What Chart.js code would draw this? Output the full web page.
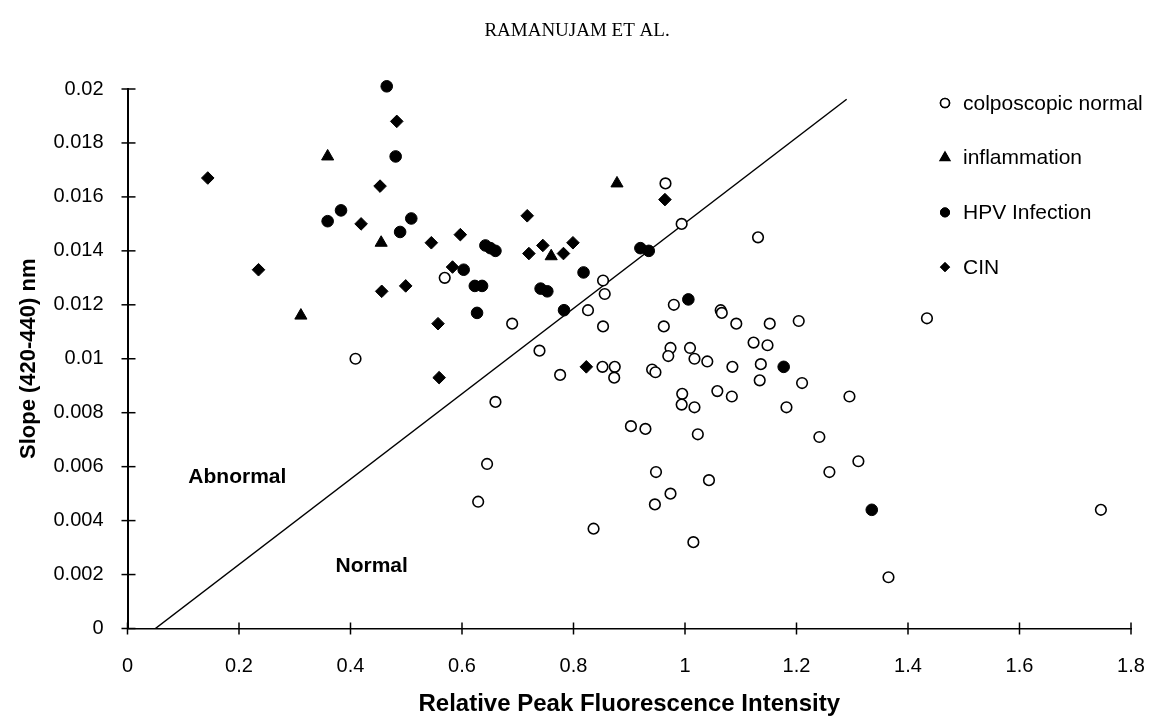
<!DOCTYPE html>
<html>
<head>
<meta charset="utf-8">
<script src="https://cdn.jsdelivr.net/npm/chart.js@4/dist/chart.umd.min.js"></script>
<style>
  body { margin: 0; background: #fff; }
</style>
</head>
<body>
<canvas id="fluorChart" width="1151" height="725"></canvas>
<script>
// values: [relative peak intensity, slope]
const colposcopicNormal = [
  [0.409, 0.0100], [0.569, 0.0130], [0.690, 0.0113], [0.660, 0.0084], [0.645, 0.0061],
  [0.629, 0.0047], [0.739, 0.0103], [0.776, 0.0094], [0.826, 0.0118], [0.853, 0.0129],
  [0.856, 0.0124], [0.853, 0.0112], [0.852, 0.0097], [0.874, 0.0097], [0.873, 0.0093],
  [0.836, 0.0037], [0.903, 0.0075], [0.929, 0.0074], [0.941, 0.0096], [0.947, 0.0095],
  [0.948, 0.0058], [0.946, 0.0046], [0.965, 0.0165], [0.994, 0.0150], [0.962, 0.0112],
  [0.980, 0.0120], [0.974, 0.0104], [0.970, 0.0101], [0.974, 0.0050], [0.995, 0.0087],
  [0.994, 0.0083], [1.009, 0.0104], [1.017, 0.0100], [1.017, 0.0082], [1.015, 0.0032],
  [1.023, 0.0072], [1.040, 0.0099], [1.043, 0.0055], [1.058, 0.0088], [1.064, 0.0118],
  [1.066, 0.0117], [1.085, 0.0097], [1.084, 0.0086], [1.092, 0.0113], [1.123, 0.0106],
  [1.131, 0.0145], [1.134, 0.0092], [1.136, 0.0098], [1.148, 0.0105], [1.152, 0.0113],
  [1.182, 0.0082], [1.204, 0.0114], [1.210, 0.0091], [1.241, 0.0071], [1.259, 0.0058],
  [1.295, 0.0086], [1.311, 0.0062], [1.365, 0.0019], [1.434, 0.0115], [1.746, 0.0044]
];
const inflammation = [
  [0.311, 0.0116], [0.359, 0.0175], [0.455, 0.0143], [0.760, 0.0138], [0.878, 0.0165]
];
const hpvInfection = [
  [0.359, 0.0151], [0.383, 0.0155], [0.465, 0.0201], [0.481, 0.0175], [0.489, 0.0147],
  [0.509, 0.0152], [0.603, 0.0133], [0.627, 0.0117], [0.623, 0.0127], [0.636, 0.0127],
  [0.642, 0.0142], [0.651, 0.0141], [0.660, 0.0140], [0.741, 0.0126], [0.753, 0.0125],
  [0.783, 0.0118], [0.818, 0.0132], [0.920, 0.0141], [0.935, 0.0140], [1.006, 0.0122],
  [1.177, 0.0097], [1.335, 0.0044]
];
const cin = [
  [0.144, 0.0167], [0.235, 0.0133], [0.419, 0.0150], [0.453, 0.0164], [0.456, 0.0125],
  [0.483, 0.0188], [0.499, 0.0127], [0.545, 0.0143], [0.557, 0.0113], [0.559, 0.0093],
  [0.583, 0.0134], [0.597, 0.0146], [0.717, 0.0153], [0.720, 0.0139], [0.745, 0.0142],
  [0.782, 0.0139], [0.799, 0.0143], [0.823, 0.0097], [0.964, 0.0159]
];
// decision line, its two ends
const boundaryLine = [[0.05, 0], [1.29, 0.01962]];

const seriesNames = ['colposcopic normal', 'inflammation', 'HPV Infection', 'CIN'];
const regionLabels = [
  { text: 'Abnormal', x: 0.197, y: 0.0056 },
  { text: 'Normal', x: 0.438, y: 0.0023 }
];

const toXY = arr => arr.map(p => ({ x: p[0], y: p[1] }));
const fmt = v => String(Number(v.toFixed(4)));
const FONT = '"Liberation Sans", Arial, sans-serif';

// ticks crossing the axes, header, region labels and the legend inside the plot
const paperPlugin = {
  id: 'paper',
  afterDraw(chart) {
    const ctx = chart.ctx;
    const xs = chart.scales.x, ys = chart.scales.y;
    ctx.save();
    ctx.strokeStyle = '#000';
    ctx.lineWidth = 1.5;
    xs.ticks.forEach(t => {
      const px = xs.getPixelForValue(t.value);
      ctx.beginPath(); ctx.moveTo(px, ys.bottom - 6); ctx.lineTo(px, ys.bottom + 6); ctx.stroke();
    });
    ys.ticks.forEach(t => {
      const py = ys.getPixelForValue(t.value);
      ctx.beginPath(); ctx.moveTo(xs.left - 6, py); ctx.lineTo(xs.left + 8, py); ctx.stroke();
    });

    ctx.fillStyle = '#000';
    ctx.textAlign = 'center';
    ctx.textBaseline = 'middle';
    ctx.font = '19px "Liberation Serif", serif';
    ctx.fillText('RAMANUJAM ET AL.', 577, 31);

    ctx.font = 'bold 21px ' + FONT;
    regionLabels.forEach(r => {
      ctx.fillText(r.text, xs.getPixelForValue(r.x), ys.getPixelForValue(r.y));
    });

    // legend
    ctx.textAlign = 'left';
    ctx.font = '21px ' + FONT;
    chart.data.datasets.filter(d => d.type !== 'line').forEach((d, i) => {
      const y = 103 + i * 54.7;
      Chart.helpers.drawPoint(ctx, {
        pointStyle: d.pointStyle,
        radius: d.pointStyle === 'triangle' ? 5.5 : 4.5,
        rotation: 0,
        borderWidth: d.borderWidth
      }, 945, y);
      ctx.fillStyle = d.backgroundColor;
      ctx.strokeStyle = '#000';
      ctx.lineWidth = d.borderWidth;
      ctx.fill();
      ctx.stroke();
      ctx.fillStyle = '#000';
      ctx.fillText(d.label, 963, y + 1);
    });
    ctx.restore();
  }
};

new Chart(document.getElementById('fluorChart'), {
  type: 'scatter',
  data: {
    datasets: [
      {
        label: seriesNames[0], data: toXY(colposcopicNormal),
        pointStyle: 'circle', pointRadius: 5.3, borderWidth: 1.6,
        backgroundColor: '#fff', borderColor: '#000', clip: false
      },
      {
        label: seriesNames[1], data: toXY(inflammation),
        pointStyle: 'triangle', pointRadius: 7, borderWidth: 1,
        backgroundColor: '#000', borderColor: '#000', clip: false
      },
      {
        label: seriesNames[2], data: toXY(hpvInfection),
        pointStyle: 'circle', pointRadius: 5.8, borderWidth: 1,
        backgroundColor: '#000', borderColor: '#000', clip: false
      },
      {
        label: seriesNames[3], data: toXY(cin),
        pointStyle: 'rectRot', pointRadius: 6.3, borderWidth: 1,
        backgroundColor: '#000', borderColor: '#000', clip: false
      },
      {
        type: 'line', label: 'boundary', data: toXY(boundaryLine),
        borderColor: '#000', borderWidth: 1.5, pointRadius: 0, fill: false
      }
    ]
  },
  options: {
    responsive: false,
    animation: false,
    layout: { padding: { top: 89, right: 20, left: 0, bottom: 0 } },
    plugins: {
      legend: { display: false },
      tooltip: { enabled: false }
    },
    scales: {
      x: {
        type: 'linear', min: 0, max: 1.8,
        afterFit: s => { s.height = 96.5; s.paddingLeft = 0; s.paddingRight = 0; },
        grid: { display: false, drawTicks: false },
        border: { display: true, color: '#000', width: 1.5 },
        ticks: {
          stepSize: 0.2, padding: 26, color: '#000',
          font: { family: FONT, size: 20 },
          callback: v => fmt(v)
        },
        title: {
          display: true, text: 'Relative Peak Fluorescence Intensity', color: '#000',
          font: { family: FONT, size: 24, weight: 'bold' },
          padding: { top: 0, bottom: 6 }
        }
      },
      y: {
        type: 'linear', min: 0, max: 0.02,
        afterFit: s => { s.width = 127.5; s.paddingTop = 0; s.paddingBottom = 0; },
        grid: { display: false, drawTicks: false },
        border: { display: true, color: '#000', width: 2 },
        ticks: {
          stepSize: 0.002, padding: 24, color: '#000',
          font: { family: FONT, size: 20 },
          callback: v => fmt(v)
        },
        title: {
          display: true, text: 'Slope (420-440) nm', color: '#000',
          font: { family: FONT, size: 22, weight: 'bold' },
          padding: { top: 16, bottom: 0 }
        }
      }
    }
  },
  plugins: [paperPlugin]
});
</script>
</body>
</html>
